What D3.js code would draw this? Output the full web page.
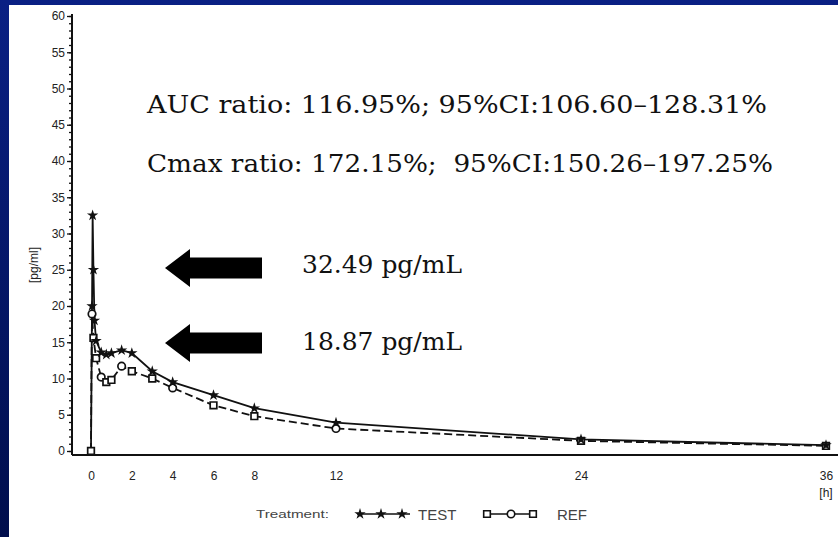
<!DOCTYPE html>
<html>
<head>
<meta charset="utf-8">
<script src="https://cdn.jsdelivr.net/npm/d3@7"></script>
<style>
  html, body { margin: 0; padding: 0; background: #fff; }
  svg { display: block; }
  .tick text { font-family: "Liberation Sans", Arial, sans-serif; font-size: 12px; fill: #222; }
  .note { font-family: "DejaVu Serif", serif; fill: #111; white-space: pre; }
</style>
</head>
<body>
<script>
// sample times (h) and mean concentrations (pg/ml)
var testTimes = [0, 0.05, 0.08, 0.12, 0.17, 0.25, 0.5, 0.75, 1, 1.5, 2, 3, 4, 6, 8, 12, 24, 36];
var testValues = [0, 20, 32.5, 25, 18, 15.2, 13.6, 13.3, 13.5, 13.9, 13.5, 11.0, 9.5, 7.7, 5.9, 3.9, 1.6, 0.8];
var refTimes = [0, 0.02, 0.05, 0.12, 0.25, 0.5, 0.75, 1, 1.5, 2, 3, 4, 6, 8, 12, 24, 36];
var refValues = [0, 10, 18.9, 15.6, 12.8, 10.2, 9.5, 9.8, 11.7, 11.0, 10.0, 8.7, 6.3, 4.8, 3.1, 1.4, 0.7];
var xTicks = [0, 2, 4, 6, 8, 12, 24, 36];
var yTicks = [0, 5, 10, 15, 20, 25, 30, 35, 40, 45, 50, 55, 60];
var notes = ["AUC ratio: 116.95%; 95%CI:106.60\u2013128.31%",
             "Cmax ratio: 172.15%;  95%CI:150.26\u2013197.25%"];
var peaks = ["32.49 pg/mL", "18.87 pg/mL"];

var W = 838, H = 537;
var svg = d3.select("body").append("svg")
    .attr("width", W)
    .attr("height", H);

// blue slide border
var grad = svg.append("defs").append("linearGradient")
    .attr("id", "bg").attr("x1", 0).attr("y1", 0).attr("x2", 0).attr("y2", 1);
grad.append("stop").attr("offset", "0%").attr("stop-color", "#0a2084");
grad.append("stop").attr("offset", "100%").attr("stop-color", "#000e4c");
svg.append("rect").attr("width", W).attr("height", H).attr("fill", "url(#bg)");
svg.append("rect").attr("x", 9).attr("y", 5).attr("width", W - 9).attr("height", H - 5).attr("fill", "#fff");

var x = d3.scaleLinear().domain([0, 36]).range([91, 826]);
var y = d3.scaleLinear().domain([0, 60]).range([451, 16]);
var axisY = 455;

// y axis: minor ticks every 1, major every 5
svg.append("g")
    .attr("transform", "translate(72,0)")
    .call(d3.axisLeft(y).tickValues(d3.range(0, 61, 1)).tickSize(3).tickFormat(""))
    .call(function(g) { g.select(".domain").remove(); })
    .selectAll("line").attr("stroke", "#111").attr("stroke-width", 1.3);
var yg = svg.append("g")
    .attr("transform", "translate(72,0)")
    .call(d3.axisLeft(y).tickValues(yTicks).tickSize(5).tickPadding(2));
yg.select(".domain").remove();
yg.selectAll("line").attr("stroke", "#111").attr("stroke-width", 1.3);
svg.append("line").attr("x1", 72).attr("x2", 72).attr("y1", 14).attr("y2", axisY)
    .attr("stroke", "#111").attr("stroke-width", 2);

// x axis
var xg = svg.append("g")
    .attr("transform", "translate(0," + axisY + ")")
    .call(d3.axisBottom(x).tickValues(xTicks).tickSize(0).tickPadding(16));
xg.select(".domain").remove();
svg.append("line").attr("x1", 72).attr("x2", W).attr("y1", axisY).attr("y2", axisY)
    .attr("stroke", "#111").attr("stroke-width", 2);
svg.append("text").attr("x", x(36)).attr("y", 497).attr("text-anchor", "middle")
    .style("font-family", "Liberation Sans, Arial, sans-serif").style("font-size", "12px").attr("fill", "#222")
    .text("[h]");
svg.append("text").attr("transform", "translate(38,265) rotate(-90)").attr("text-anchor", "middle")
    .style("font-family", "Liberation Sans, Arial, sans-serif").style("font-size", "12px").attr("fill", "#222")
    .text("[pg/ml]");

// curves
var testData = testTimes.map(function(t, i) { return { t: t, v: testValues[i] }; });
var refData = refTimes.map(function(t, i) { return { t: t, v: refValues[i] }; });
var line = d3.line().x(function(d) { return x(d.t); }).y(function(d) { return y(d.v); });

svg.append("path").datum(refData).attr("d", line)
    .attr("fill", "none").attr("stroke", "#111").attr("stroke-width", 1.8).attr("stroke-dasharray", "8,4");
svg.append("path").datum(testData).attr("d", line)
    .attr("fill", "none").attr("stroke", "#111").attr("stroke-width", 1.8);

var star = d3.symbol().type(d3.symbolStar).size(40);
var refShapes = [d3.symbolSquare, d3.symbolCircle, d3.symbolSquare];

svg.selectAll(".ref").data(refData.filter(function(d, i) { return i !== 1; }))
    .enter().append("path").attr("class", "ref")
    .attr("transform", function(d) { return "translate(" + x(d.t) + "," + y(d.v) + ")"; })
    .attr("d", function(d, i) { return d3.symbol().type(refShapes[i % 3]).size(44)(); })
    .attr("fill", "#fff").attr("stroke", "#111").attr("stroke-width", 1.7);
svg.selectAll(".test").data(testData.filter(function(d) { return d.t > 0; }))
    .enter().append("path").attr("class", "test")
    .attr("transform", function(d) { return "translate(" + x(d.t) + "," + y(d.v) + ")"; })
    .attr("d", star).attr("fill", "#111");

// annotations
svg.selectAll(".note1").data(notes).enter().append("text")
    .attr("class", "note")
    .attr("x", 147)
    .attr("y", function(d, i) { return 113 + i * 59; })
    .attr("textLength", function(d, i) { return i === 0 ? 620 : 626; })
    .attr("lengthAdjust", "spacingAndGlyphs")
    .style("font-size", "24px")
    .text(function(d) { return d; });

var arrowY = [268, 343];
svg.selectAll(".arrow").data(arrowY).enter().append("path")
    .attr("class", "arrow")
    .attr("d", function(cy) {
        return "M165," + cy + "L190," + (cy - 19) + "L190," + (cy - 10.5) + "L262," + (cy - 10.5) +
            "L262," + (cy + 10.5) + "L190," + (cy + 10.5) + "L190," + (cy + 19) + "Z";
    })
    .attr("fill", "#000");

svg.selectAll(".peak").data(peaks).enter().append("text")
    .attr("class", "note")
    .attr("x", 302)
    .attr("y", function(d, i) { return [273, 350][i]; })
    .attr("textLength", 160)
    .attr("lengthAdjust", "spacingAndGlyphs")
    .style("font-size", "24px")
    .text(function(d) { return d; });

// legend
var leg = svg.append("g").style("font-family", "Liberation Sans, Arial, sans-serif").attr("fill", "#444");
leg.append("text").attr("x", 256).attr("y", 518).style("font-size", "11px").attr("textLength", 73)
    .attr("lengthAdjust", "spacingAndGlyphs").text("Treatment:");
leg.append("line").attr("x1", 357).attr("x2", 410).attr("y1", 514).attr("y2", 514)
    .attr("stroke", "#111").attr("stroke-width", 1.5);
[360, 381, 402].forEach(function(px) {
    leg.append("path").attr("transform", "translate(" + px + ",514)").attr("d", star).attr("fill", "#111");
});
leg.append("text").attr("x", 418).attr("y", 520).style("font-size", "15px").text("TEST");
leg.append("line").attr("x1", 487).attr("x2", 533).attr("y1", 514).attr("y2", 514)
    .attr("stroke", "#111").attr("stroke-width", 1.5);
[487, 511, 533].forEach(function(px, i) {
    leg.append("path").attr("transform", "translate(" + px + ",514)")
        .attr("d", d3.symbol().type(refShapes[i]).size(44)())
        .attr("fill", "#fff").attr("stroke", "#111").attr("stroke-width", 1.6);
});
leg.append("text").attr("x", 557).attr("y", 520).style("font-size", "15px").text("REF");
</script>
</body>
</html>
